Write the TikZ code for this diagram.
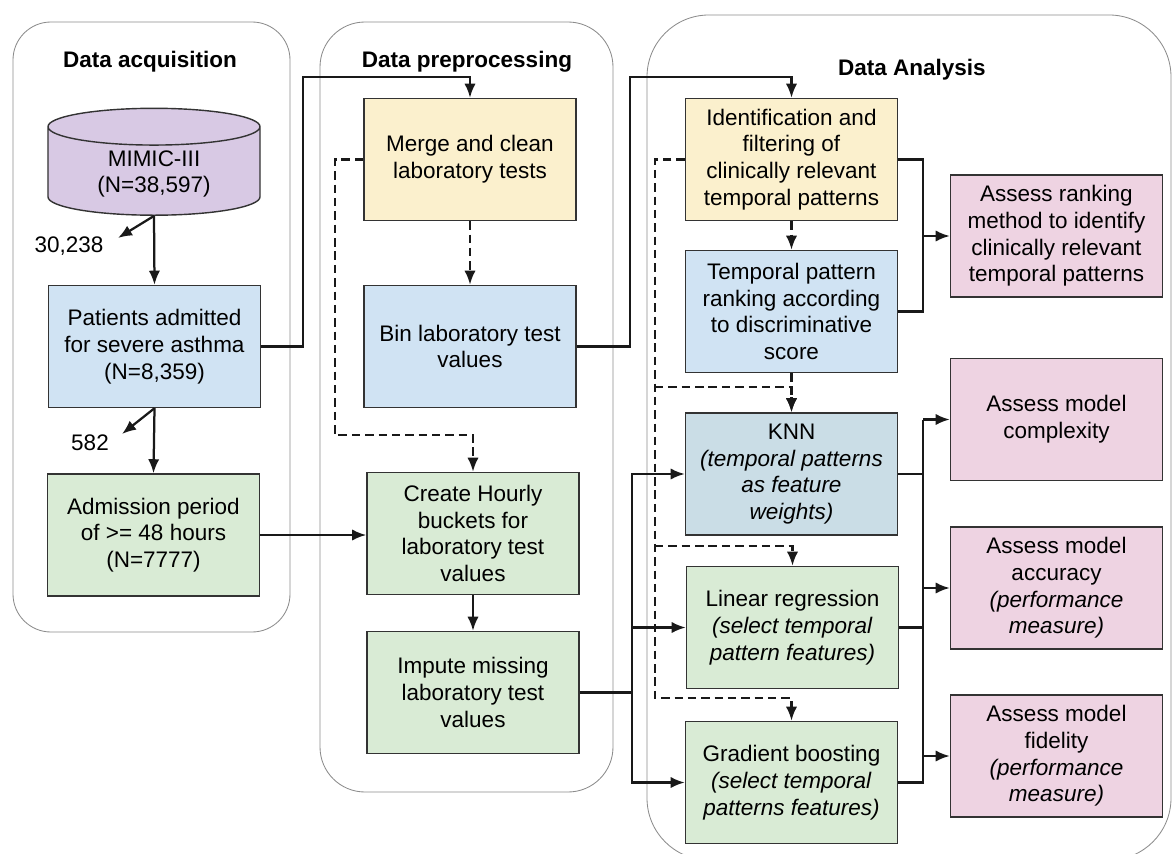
\documentclass[tikz,border=0pt]{standalone}
\usepackage{fontspec}
\setmainfont{Liberation Sans}
\usetikzlibrary{positioning,calc,shapes.geometric}
\usetikzlibrary{arrows.meta}
\definecolor{DbPurple}{RGB}{216,201,228}
\definecolor{StepYellow}{RGB}{251,240,205}
\definecolor{StepBlue}{RGB}{208,227,243}
\definecolor{KnnBlue}{RGB}{202,221,230}
\definecolor{StepGreen}{RGB}{217,235,213}
\definecolor{EvalPink}{RGB}{238,211,226}
\tikzset{
  panel/.style={draw=black!45,line width=0.6pt,rounded corners=27pt},
  box/.style={draw=black!80,line width=1pt,minimum width=5.3cm,minimum height=3.05cm,
    inner sep=2pt,align=center},
  title/.style={font=\fontsize{16}{19}\selectfont\bfseries},
  link/.style={draw=black!90,line width=1.6pt},
  arr/.style={link,-{Latex[length=10pt,width=8pt]}},
}
\tikzset{darr/.style={arr,line width=1.7pt,dash pattern=on 6pt off 3.5pt}, db/.style={cylinder,shape border rotate=90,aspect=0.3,draw=black!80,line width=1pt,fill=DbPurple,minimum width=5.3cm,minimum height=2.5cm,align=center}}

\begin{document}
\begin{tikzpicture}[x=0.025cm,y=-0.025cm,font=\fontsize{16}{19}\selectfont]
\useasboundingbox (0,0) rectangle (1172,854);
\fill[white] (0,0) rectangle (1172,854);
% the three stages
\draw[panel] (13,22) rectangle (290,632);
\draw[panel,rounded corners=32pt] (320,22) rectangle (613,792);
\draw[panel,rounded corners=44pt] (647,15) rectangle (1171,860);
\node[title] (tacq) at (150,62) {Data acquisition};
\node[title] (tpre) at (467,62) {Data preprocessing};
\node[title] (tana) at (912,70) {Data Analysis};
% data acquisition
\node[db] (mimic) at (154,174) {MIMIC-III\\(N=38,597)};
\node[box,fill=StepBlue] (patients) at (154.5,346.5) {Patients admitted\\for severe asthma\\(N=8,359)};
\node[box,fill=StepGreen] (admission) at (153.5,535) {Admission period\\of >= 48 hours\\(N=7777)};
\coordinate (out1) at (118,238);
\coordinate (out2) at (122,434);
\node (n1) at (69,246) {30,238};
\node (n2) at (90,443) {582};
% data preprocessing
\node[box,fill=StepYellow] (merge) at (470,159.5) {Merge and clean\\laboratory tests};
\node[box,fill=StepBlue] (bin) at (470,346.5) {Bin laboratory test\\values};
\node[box,fill=StepGreen] (hourly) at (473,533.5) {Create Hourly\\buckets for\\laboratory test\\values};
\node[box,fill=StepGreen] (impute) at (473,692.5) {Impute missing\\laboratory test\\values};
% data analysis
\node[box,fill=StepYellow] (ident) at (791.5,159.5) {Identification and\\filtering of\\clinically relevant\\temporal patterns};
\node[box,fill=StepBlue] (rank) at (791.5,311.5) {Temporal pattern\\ranking according\\to discriminative\\score};
\node[box,fill=KnnBlue] (knn) at (791.5,474) {KNN\\\textit{(temporal patterns}\\\textit{as feature}\\\textit{weights)}};
\node[box,fill=StepGreen] (linreg) at (792.5,627.5) {Linear regression\\\textit{(select temporal}\\\textit{pattern features)}};
\node[box,fill=StepGreen] (gradb) at (791.5,782.5) {Gradient boosting\\\textit{(select temporal}\\\textit{patterns features)}};
\node[box,fill=EvalPink] (asrank) at (1056.5,236) {Assess ranking\\method to identify\\clinically relevant\\temporal patterns};
\node[box,fill=EvalPink] (ascomp) at (1056.5,419.5) {Assess model\\complexity};
\node[box,fill=EvalPink] (asacc) at (1056.5,588) {Assess model\\accuracy\\\textit{(performance}\\\textit{measure)}};
\node[box,fill=EvalPink] (asfid) at (1056.5,756) {Assess model\\fidelity\\\textit{(performance}\\\textit{measure)}};
% solid flow
\draw[arr] (mimic.south) -- (out1);
\draw[arr] (mimic.south) -- (patients.north);
\draw[arr] (patients.south) -- (out2);
\draw[arr] (patients.south) -- (admission.north);
\coordinate (j1) at (303,77);
\coordinate (j2) at (630,77);
\draw[arr] (patients.east) -| (j1) -| (merge.north);
\draw[arr] (bin.east) -| (j2) -| (ident.north);
\draw[arr] (admission.east) -- (admission.east -| hourly.west);
\draw[arr] (hourly.south) -- (impute.north);
\coordinate (fan) at (632,692.5);
\draw[link] (impute.east) -- (fan);
\foreach \n in {knn,linreg,gradb}{\draw[arr] (fan) |- (\n.west);}
\coordinate (r1) at (923,236);
\draw[link] (ident.east) -| (r1);
\draw[link] (rank.east) -| (r1);
\draw[arr] (r1) -- (asrank.west);
\coordinate (mtop) at (923,419.5);
\draw[link] (knn.east) -- (knn.east -| mtop);
\draw[link] (linreg.east) -- (linreg.east -| mtop);
\draw[link] (gradb.east) -| (mtop);
\foreach \n in {ascomp,asacc,asfid}{\draw[arr] (mtop |- \n.west) -- (\n.west);}
% dashed flow
\draw[darr] (merge.south) -- (bin.north);
\coordinate (d1) at (335,435);
\draw[darr] (merge.west) -| (d1) -| (hourly.north);
\draw[darr] (ident.south) -- (rank.north);
\draw[darr] (rank.south) -- (knn.north);
\coordinate (dl) at (655,698);
\coordinate (dk) at (655,387);
\coordinate (dr) at (655,546);
\draw[darr] (ident.west) -| (dl) -| (gradb.north);
\draw[darr] (dk) -| (knn.north);
\draw[darr] (dr) -| (linreg.north);
\end{tikzpicture}
\end{document}
